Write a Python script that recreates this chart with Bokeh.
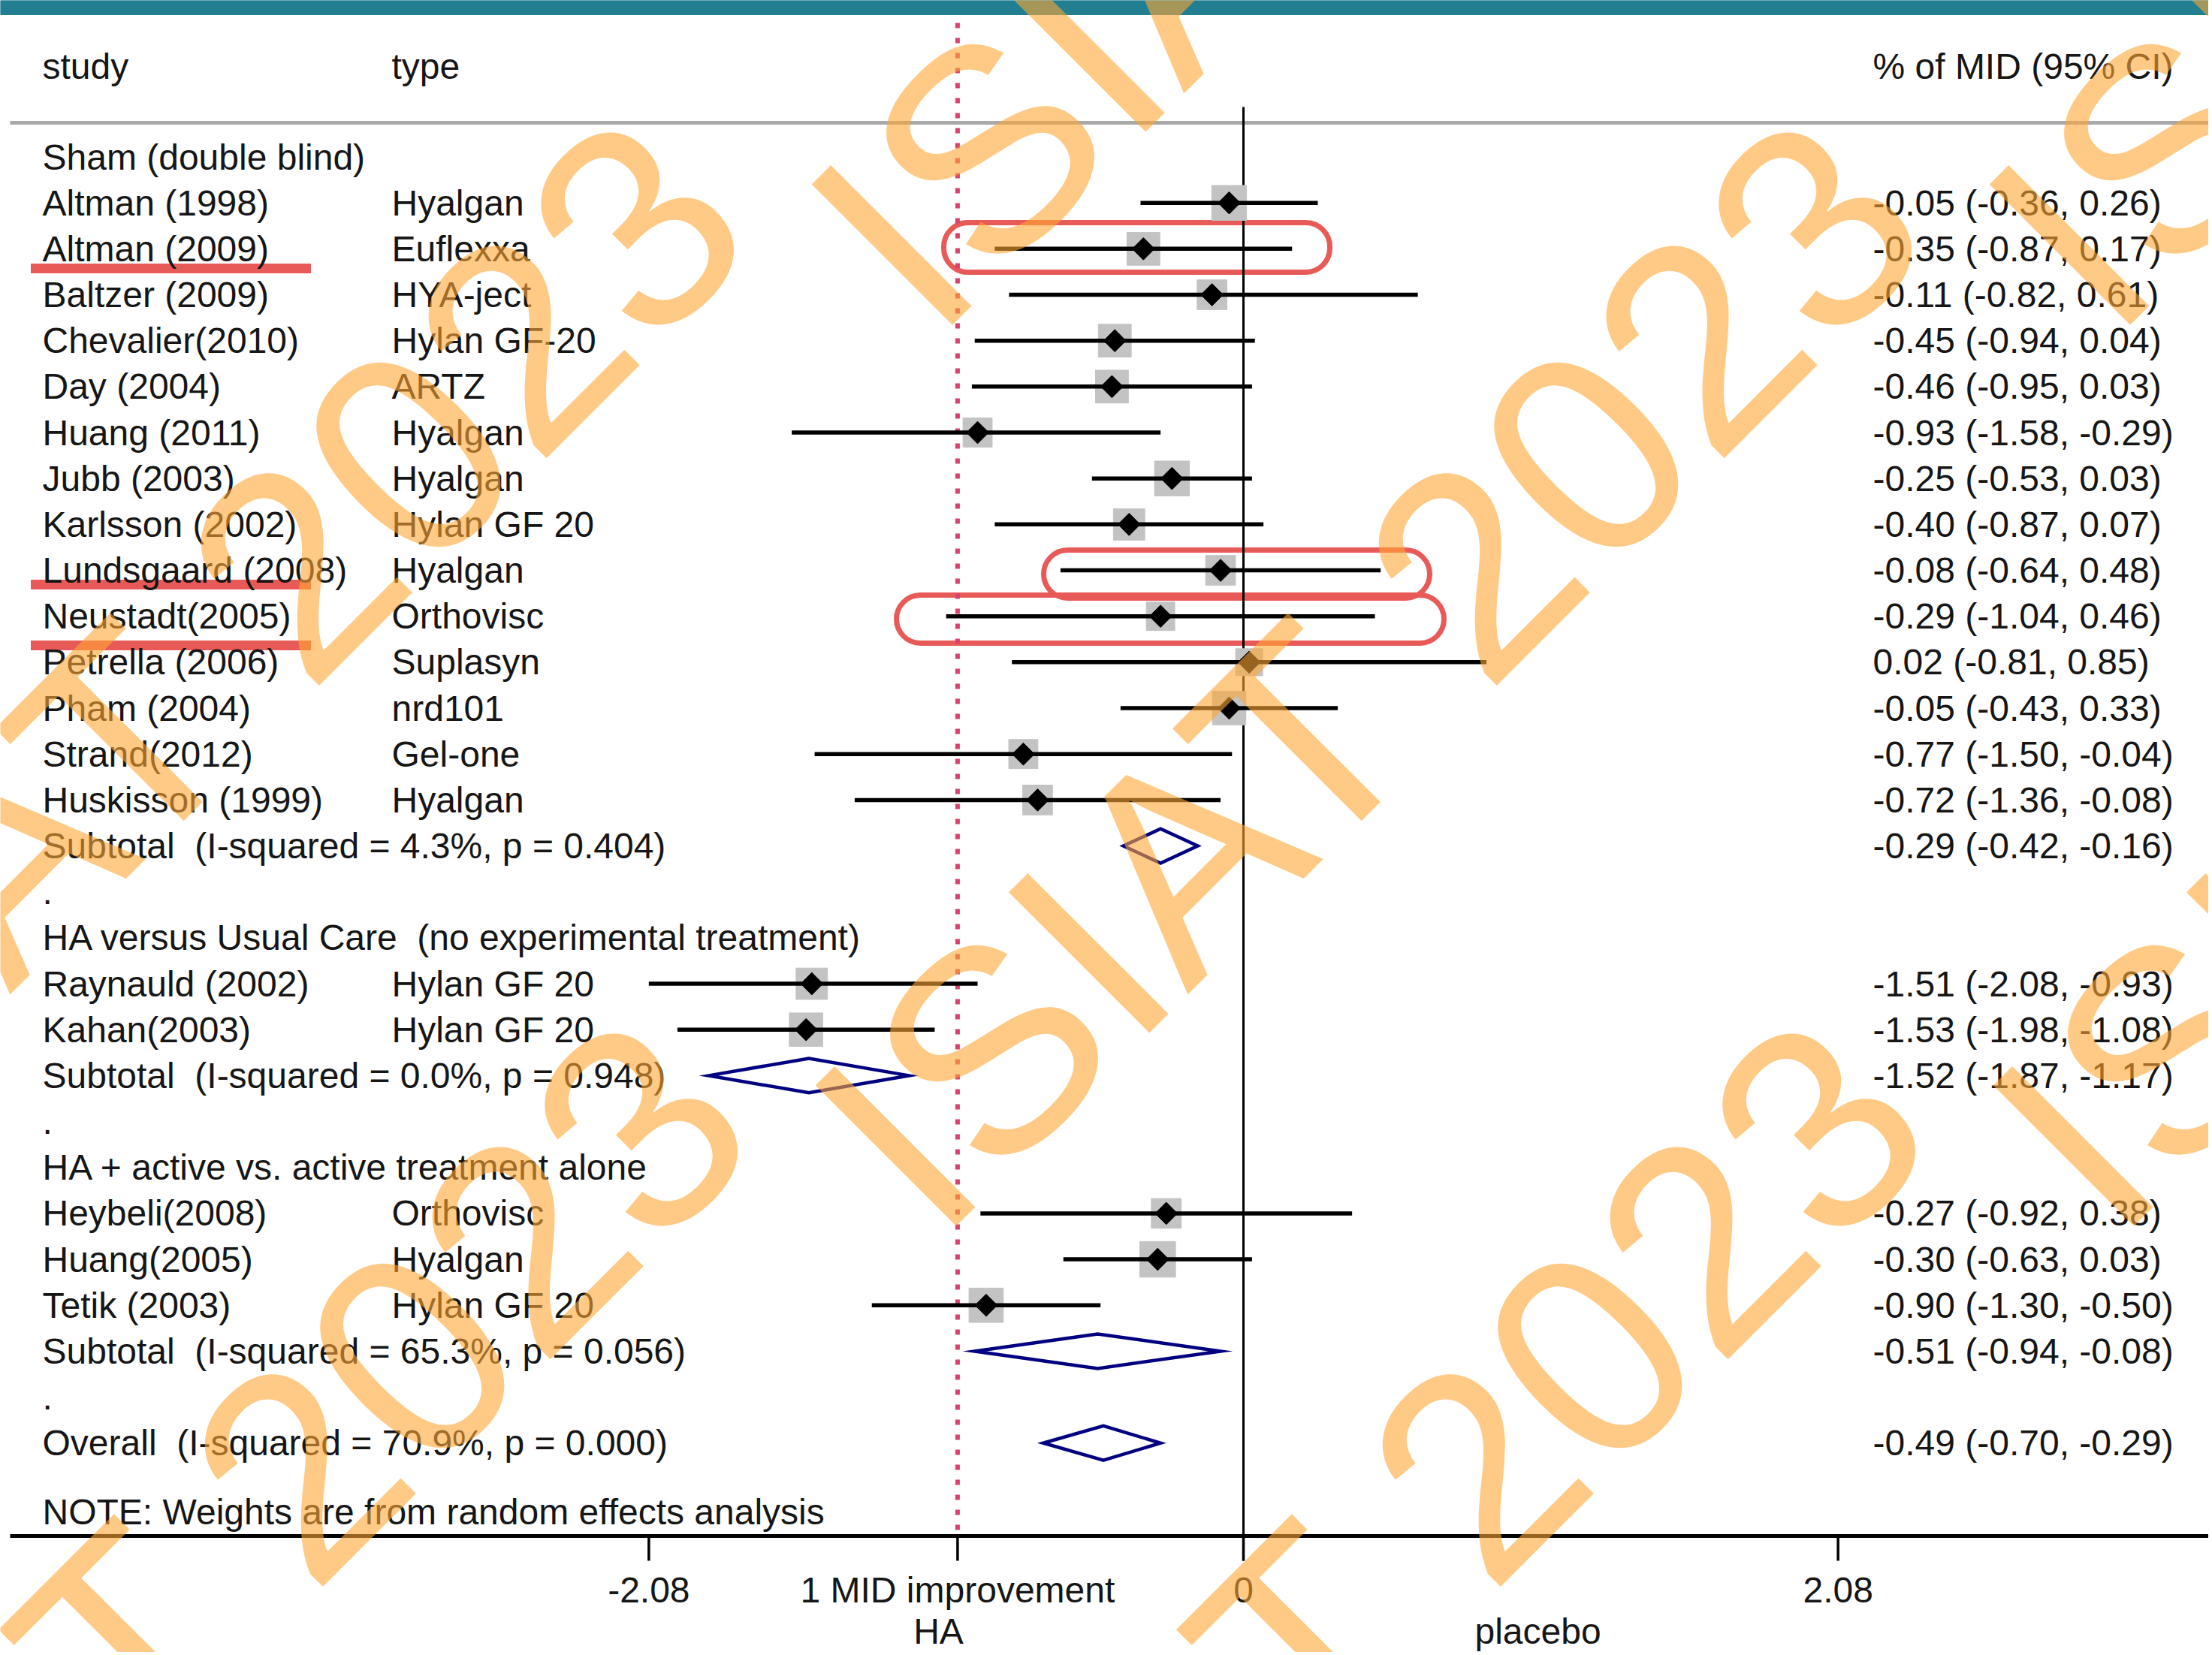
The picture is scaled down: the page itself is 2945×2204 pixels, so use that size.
import math
from bokeh.plotting import figure
from bokeh.models import Range1d, BoxAnnotation
from bokeh.core.properties import value
from bokeh.embed import file_html
from bokeh.resources import INLINE

# ---------------- data ----------------
group_titles = [
    "Sham (double blind)",
    "HA versus Usual Care\u00a0 (no experimental treatment)",
    "HA + active vs. active treatment alone",
]
studies = ["Altman (1998)", "Altman (2009)", "Baltzer (2009)", "Chevalier(2010)", "Day (2004)",
           "Huang (2011)", "Jubb (2003)", "Karlsson (2002)", "Lundsgaard (2008)", "Neustadt(2005)",
           "Petrella (2006)", "Pham (2004)", "Strand(2012)", "Huskisson (1999)",
           "Raynauld (2002)", "Kahan(2003)",
           "Heybeli(2008)", "Huang(2005)", "Tetik (2003)"]
types = ["Hyalgan", "Euflexxa", "HYA-ject", "Hylan GF-20", "ARTZ", "Hyalgan", "Hyalgan", "Hylan GF 20",
         "Hyalgan", "Orthovisc", "Suplasyn", "nrd101", "Gel-one", "Hyalgan",
         "Hylan GF 20", "Hylan GF 20",
         "Orthovisc", "Hyalgan", "Hylan GF 20"]
group_of = [0] * 14 + [1] * 2 + [2] * 3
est = [-0.05, -0.35, -0.11, -0.45, -0.46, -0.93, -0.25, -0.40, -0.08, -0.29, 0.02, -0.05, -0.77, -0.72,
       -1.51, -1.53, -0.27, -0.30, -0.90]
ci_low = [-0.36, -0.87, -0.82, -0.94, -0.95, -1.58, -0.53, -0.87, -0.64, -1.04, -0.81, -0.43, -1.50, -1.36,
          -2.08, -1.98, -0.92, -0.63, -1.30]
ci_high = [0.26, 0.17, 0.61, 0.04, 0.03, -0.29, 0.03, 0.07, 0.48, 0.46, 0.85, 0.33, -0.04, -0.08,
           -0.93, -1.08, 0.38, 0.03, -0.50]
weights = [6.3, 5.6, 4.6, 5.6, 5.6, 4.4, 6.3, 5.1, 4.6, 4.2, 3.8, 5.8, 4.4, 4.6, 5.1, 5.8, 4.6, 6.6, 6.1]
sub_est = [-0.29, -1.52, -0.51]
sub_low = [-0.42, -1.87, -0.94]
sub_high = [-0.16, -1.17, -0.08]
sub_i2 = [4.3, 0.0, 65.3]
sub_p = [0.404, 0.948, 0.056]
overall_est, overall_low, overall_high = -0.49, -0.70, -0.29
overall_i2, overall_p = 70.9, 0.000
mid_value = -1.0
tick_values = [-2.08, -1.0, 0.0, 2.08]
tick_labels = ["-2.08", "1 MID improvement", "0", "2.08"]
side_labels = ["HA", "placebo"]
headers = ["study", "type", "% of MID (95% CI)"]
note = "NOTE: Weights are from random effects analysis"
watermark = "ISIAT 2023"

# ---------------- layout ----------------
W, H = 2940, 2200
PAGE = 0
X0, XS = 1655.0, 380.6      # px of x=0 inside figure, px per unit
Y0, YS = 208.5, 61.17       # px of row 0 inside figure, px per row


def vx(px):   # page pixel -> data x
    return (px - PAGE - X0) / XS


def ry(py):   # page pixel -> row
    return (py - PAGE - Y0) / YS


FONT = value("Liberation Sans")
FS = "48px"
INK = "#161616"
NAVY = "#000080"

COL_STUDY = vx(56)
COL_TYPE = vx(521)
COL_VAL = vx(2493)


def fmt(e, l, h):
    return f"{e:.2f} ({l:.2f}, {h:.2f})"


# rows
left_y, left_t = [], []
type_y, type_t = [], []
val_y, val_t = [], []
study_rows = [0] * len(studies)
sub_rows = []
r = 0
for g, title in enumerate(group_titles):
    left_y.append(r); left_t.append(title)
    r += 1
    for k in range(len(studies)):
        if group_of[k] == g:
            study_rows[k] = r
            left_y.append(r); left_t.append(studies[k])
            type_y.append(r); type_t.append(types[k])
            val_y.append(r); val_t.append(fmt(est[k], ci_low[k], ci_high[k]))
            r += 1
    sub_rows.append(r)
    left_y.append(r); left_t.append(f"Subtotal\u00a0 (I-squared = {sub_i2[g]:.1f}%, p = {sub_p[g]:.3f})")
    val_y.append(r); val_t.append(fmt(sub_est[g], sub_low[g], sub_high[g]))
    r += 1
    left_y.append(r); left_t.append(".")
    r += 1
overall_row = r
left_y.append(r); left_t.append(f"Overall\u00a0 (I-squared = {overall_i2:.1f}%, p = {overall_p:.3f})")
val_y.append(r); val_t.append(fmt(overall_est, overall_low, overall_high))
note_row = r + 1.5

p = figure(width=W, height=H, output_backend="svg", toolbar_location=None,
           x_range=Range1d(-X0 / XS, (W - X0) / XS),
           y_range=Range1d((H - Y0) / YS, -Y0 / YS),
           x_axis_location=None, y_axis_location=None, min_border=0)
p.grid.visible = False
p.outline_line_color = None
p.background_fill_color = "white"
p.border_fill_color = "white"

# top teal band
p.quad(left=[vx(0)], right=[vx(2945)], top=[ry(0)], bottom=[ry(19)], color="#227f91")

# header rule
p.segment(x0=[vx(13)], y0=[ry(163)], x1=[vx(2945)], y1=[ry(163)], line_color="#a9a9a9", line_width=5)

# red highlight boxes & underlines (annotation marks on the figure)
RED = "#e85a58"
for (l, rr, t, b) in [(1256, 1770, 296, 362), (1389, 1903, 732, 796), (1193, 1922, 792, 856)]:
    p.add_layout(BoxAnnotation(left=vx(l), right=vx(rr), top=ry(t), bottom=ry(b),
                               fill_alpha=0, line_color=RED, line_alpha=1.0, line_width=7,
                               border_radius=32, level="underlay"))
for (t, b) in [(351, 363), (772, 784), (853, 865)]:
    p.quad(left=[vx(41)], right=[vx(413)], top=[ry(t)], bottom=[ry(b)], color=RED)

# reference lines
p.segment(x0=[mid_value], y0=[ry(30)], x1=[mid_value], y1=[ry(2045)],
          line_color="#d8426d", line_width=6, line_dash="7 13")
p.segment(x0=[0], y0=[ry(142)], x1=[0], y1=[ry(2078)], line_color="black", line_width=3)

# weight boxes, CIs and point estimates
p.scatter(x=est, y=study_rows, marker="square", size=[18.5 * math.sqrt(w) for w in weights],
          color="#c3c3c3")
p.segment(x0=ci_low, y0=study_rows, x1=ci_high, y1=study_rows, line_color="black", line_width=5.5)
p.scatter(x=est, y=study_rows, marker="square", angle=math.pi / 4, size=21, color="black")

# pooled diamonds
HH = 0.375
d_lo = sub_low + [overall_low]
d_est = sub_est + [overall_est]
d_hi = sub_high + [overall_high]
d_row = sub_rows + [overall_row]
p.patches(xs=[[a, b, c, b] for a, b, c in zip(d_lo, d_est, d_hi)],
          ys=[[y, y - HH, y, y + HH] for y in d_row],
          fill_alpha=0, line_color=NAVY, line_width=4.5, line_join="miter")

# texts
p.text(x=[COL_STUDY] * len(left_t), y=left_y, text=left_t, text_font=FONT, text_font_size=FS,
       text_color=INK, text_align="left", text_baseline="middle")
p.text(x=[COL_TYPE] * len(type_t), y=type_y, text=type_t, text_font=FONT, text_font_size=FS,
       text_color=INK, text_align="left", text_baseline="middle")
p.text(x=[COL_VAL] * len(val_t), y=val_y, text=val_t, text_font=FONT, text_font_size=FS,
       text_color=INK, text_align="left", text_baseline="middle")
p.text(x=[COL_STUDY, COL_TYPE, COL_VAL], y=[ry(88)] * 3, text=headers, text_font=FONT,
       text_font_size=FS, text_color=INK, text_align="left", text_baseline="middle")
p.text(x=[COL_STUDY], y=[note_row], text=[note], text_font=FONT, text_font_size=FS,
       text_color=INK, text_align="left", text_baseline="middle")

# bottom axis
p.segment(x0=[vx(13)], y0=[ry(2045)], x1=[vx(2945)], y1=[ry(2045)], line_color="black", line_width=5)
p.segment(x0=tick_values, y0=[ry(2045)] * 4, x1=tick_values, y1=[ry(2078)] * 4,
          line_color="black", line_width=3.5)
p.text(x=tick_values, y=[ry(2117)] * 4, text=tick_labels, text_font=FONT, text_font_size=FS,
       text_color=INK, text_align="center", text_baseline="middle")
p.text(x=[vx(1249), vx(2047)], y=[ry(2172)] * 2, text=side_labels, text_font=FONT, text_font_size=FS,
       text_color=INK, text_align="center", text_baseline="middle")

# watermark (tiled, 45 degrees)
tiles = [(-1, 0), (0, 0), (1, 0), (0, 1), (1, 1), (-1, -1), (0, -1)]
wm_x = [vx(1153 + 1568 * i - 5 * j) for i, j in tiles]
wm_y = [ry(1563 - 1200 * j) for i, j in tiles]
p.text(x=wm_x, y=wm_y, text=[watermark] * len(wm_x), angle=math.pi / 4, text_font=FONT,
       text_font_size="385px", text_color="#ffa733", text_alpha=0.6,
       text_align="left", text_baseline="alphabetic")

open("out.html", "w").write(file_html(p, INLINE))
